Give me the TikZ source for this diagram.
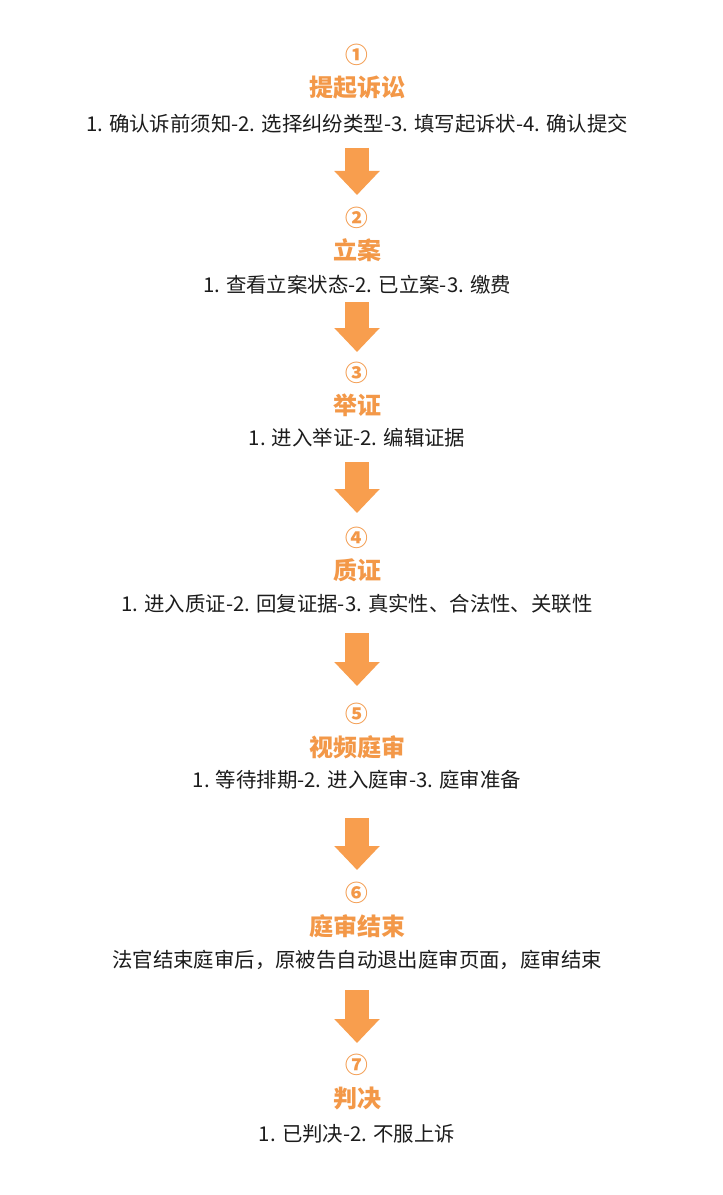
\documentclass[tikz,border=0pt]{standalone}
\usepackage{fontspec}
\setmainfont{Noto Sans CJK SC}
\usepackage{xcolor}
\usepackage{tikz}
\usetikzlibrary{arrows.meta}
\definecolor{stepcol}{RGB}{243,152,72}
\definecolor{arrowcol}{RGB}{248,158,78}
\definecolor{desccol}{RGB}{28,28,28}

\begin{document}
\begin{tikzpicture}[x=0.75pt,y=-0.75pt,
    stepnum/.style={text=stepcol,font=\fontsize{17}{17}\selectfont\bfseries,inner sep=0pt},
    steptitle/.style={text=stepcol,font=\fontsize{18}{18}\selectfont\bfseries,inner sep=0pt},
    stepdesc/.style={text=desccol,font=\fontsize{15.3}{15.3}\selectfont,inner sep=0pt},
    bigarrow/.style={draw=arrowcol,line width=18pt,-{Triangle[width=33pt,length=18pt]}}]
    \useasboundingbox[fill=white] (0,0) rectangle (723,1195);

    \node[stepnum] (n1) at (357,55) {①};
    \node[steptitle] (t1) at (357,88) {提起诉讼};
    \node[stepdesc] (d1) at (357,124) {1. 确认诉前须知-2. 选择纠纷类型-3. 填写起诉状-4. 确认提交};

    \node[stepnum] (n2) at (357,218) {②};
    \node[steptitle] (t2) at (357,250) {立案};
    \node[stepdesc] (d2) at (357,285) {1. 查看立案状态-2. 已立案-3. 缴费};

    \node[stepnum] (n3) at (357,373) {③};
    \node[steptitle] (t3) at (357,405) {举证};
    \node[stepdesc] (d3) at (357,438) {1. 进入举证-2. 编辑证据};

    \node[stepnum] (n4) at (357,538) {④};
    \node[steptitle] (t4) at (357,570) {质证};
    \node[stepdesc] (d4) at (357,604) {1. 进入质证-2. 回复证据-3. 真实性、合法性、关联性};

    \node[stepnum] (n5) at (357,714) {⑤};
    \node[steptitle] (t5) at (357,747) {视频庭审};
    \node[stepdesc] (d5) at (357,780) {1. 等待排期-2. 进入庭审-3. 庭审准备};

    \node[stepnum] (n6) at (357,893) {⑥};
    \node[steptitle] (t6) at (357,926) {庭审结束};
    \node[stepdesc] (d6) at (357,960) {法官结束庭审后，原被告自动退出庭审页面，庭审结束};

    \node[stepnum] (n7) at (357,1065) {⑦};
    \node[steptitle] (t7) at (357,1098) {判决};
    \node[stepdesc] (d7) at (357,1134) {1. 已判决-2. 不服上诉};

    \foreach \a/\b/\s/\e in {d1/n2/18/17.25, d2/n3/12.75/15.75, d3/n4/18/18.75,
        d4/n5/21.75/21, d5/n6/28.5/17.25, d6/n7/22.5/16.5}
        \draw[bigarrow,shorten <=\s pt,shorten >=\e pt] (\a.center) -- (\b.center);
\end{tikzpicture}
\end{document}
